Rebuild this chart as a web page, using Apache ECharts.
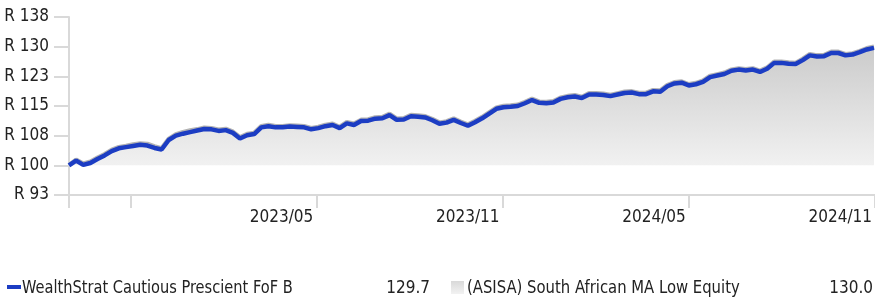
<!DOCTYPE html>
<html>
<head>
<meta charset="utf-8">
<script src="https://cdn.jsdelivr.net/npm/echarts@6/dist/echarts.min.js"></script>
<style>
  html, body { margin: 0; padding: 0; background: #fff; }
  #growthChart { width: 875px; height: 300px; }
</style>
</head>
<body>
<div id="growthChart"></div>
<script>
// weekly dates (Fridays)
const weekDates = [
  '2022-09-30','2022-10-07','2022-10-14','2022-10-21','2022-10-28','2022-11-04','2022-11-11','2022-11-18','2022-11-25',
  '2022-12-02','2022-12-09','2022-12-16','2022-12-23','2022-12-30','2023-01-06','2023-01-13','2023-01-20','2023-01-27',
  '2023-02-03','2023-02-10','2023-02-17','2023-02-24','2023-03-03','2023-03-10','2023-03-17','2023-03-24','2023-03-31',
  '2023-04-07','2023-04-14','2023-04-21','2023-04-28','2023-05-05','2023-05-12','2023-05-19','2023-05-26','2023-06-02',
  '2023-06-09','2023-06-16','2023-06-23','2023-06-30','2023-07-07','2023-07-14','2023-07-21','2023-07-28','2023-08-04',
  '2023-08-11','2023-08-18','2023-08-25','2023-09-01','2023-09-08','2023-09-15','2023-09-22','2023-09-29','2023-10-06',
  '2023-10-13','2023-10-20','2023-10-27','2023-11-03','2023-11-10','2023-11-17','2023-11-24','2023-12-01','2023-12-08',
  '2023-12-15','2023-12-22','2023-12-29','2024-01-05','2024-01-12','2024-01-19','2024-01-26','2024-02-02','2024-02-09',
  '2024-02-16','2024-02-23','2024-03-01','2024-03-08','2024-03-15','2024-03-22','2024-03-29','2024-04-05','2024-04-12',
  '2024-04-19','2024-04-26','2024-05-03','2024-05-10','2024-05-17','2024-05-24','2024-05-31','2024-06-07','2024-06-14',
  '2024-06-21','2024-06-28','2024-07-05','2024-07-12','2024-07-19','2024-07-26','2024-08-02','2024-08-09','2024-08-16',
  '2024-08-23','2024-08-30','2024-09-06','2024-09-13','2024-09-20','2024-09-27','2024-10-04','2024-10-11','2024-10-18',
  '2024-10-25','2024-11-01','2024-11-08','2024-11-15','2024-11-22','2024-11-29'
];

// WealthStrat Cautious Prescient FoF B (growth of R100)
const fundValues = [
  100.0,101.2,100.1,100.6,101.6,102.5,103.6,104.3,104.6,104.9,
  105.2,105.0,104.4,104.0,106.4,107.5,108.0,108.4,108.8,109.2,
  109.1,108.7,108.9,108.2,106.8,107.6,107.9,109.6,109.9,109.6,
  109.6,109.8,109.7,109.6,109.1,109.4,109.9,110.2,109.4,110.6,
  110.2,111.2,111.3,111.8,111.9,112.7,111.5,111.6,112.4,112.3,
  112.1,111.4,110.5,110.8,111.5,110.7,110.0,110.9,111.9,113.1,
  114.3,114.7,114.8,115.0,115.7,116.5,115.8,115.7,115.9,116.8,
  117.2,117.4,117.0,117.9,117.9,117.8,117.5,117.9,118.3,118.4,
  118.0,118.0,118.7,118.6,120.0,120.7,120.9,120.2,120.5,121.1,
  122.3,122.7,123.1,123.9,124.2,124.0,124.2,123.6,124.4,125.9,
  125.9,125.7,125.6,126.6,127.8,127.5,127.6,128.4,128.4,127.8,
  128.0,128.6,129.3,129.7
];

// (ASISA) South African MA Low Equity
const categoryValues = [
  100.0,101.4,100.4,100.9,101.9,102.8,103.9,104.6,104.9,105.3,
  105.5,105.4,104.8,104.3,106.7,107.8,108.4,108.8,109.1,109.5,
  109.4,109.0,109.2,108.5,107.1,107.9,108.2,109.9,110.2,109.9,
  109.9,110.1,110.0,109.9,109.4,109.7,110.2,110.5,109.7,110.9,
  110.5,111.5,111.6,112.1,112.2,113.0,111.8,111.9,112.7,112.6,
  112.4,111.7,110.8,111.1,111.8,111.0,110.3,111.2,112.2,113.4,
  114.6,115.0,115.1,115.3,116.0,116.8,116.1,116.0,116.2,117.1,
  117.5,117.7,117.3,118.2,118.2,118.1,117.8,118.2,118.6,118.7,
  118.3,118.3,119.0,118.9,120.3,121.0,121.2,120.5,120.8,121.4,
  122.6,123.0,123.4,124.2,124.5,124.3,124.5,123.9,124.7,126.2,
  126.2,126.0,125.9,126.9,128.1,127.8,127.9,128.7,128.7,128.1,
  128.3,128.9,129.6,130.0
];

const seriesNames = ['WealthStrat Cautious Prescient FoF B', '(ASISA) South African MA Low Equity'];
const finalValues = ['129.7', '130.0'];

const yTicks = [92.5, 100, 107.5, 115, 122.5, 130, 137.5];
const xTickDates = ['2022-09-30', '2022-11-30', '2023-05-31', '2023-11-30', '2024-05-31', '2024-11-30'];
const xLabelDates = ['2023-05-31', '2023-11-30', '2024-05-31', '2024-11-30'];

const FONT = "'Liberation Sans Narrow', 'DejaVu Sans Condensed', 'Roboto', sans-serif";
const BLUE = '#1c3dc3';
const AXIS_GREY = '#d9d9d9';

const toTime = s => echarts.time.parse(s).getTime();
const pairs = vals => weekDates.map((d, i) => [toTime(d), vals[i]]);

const chart = echarts.init(document.getElementById('growthChart'), null, { renderer: 'canvas' });

const option = {
  animation: false,
  backgroundColor: '#fff',
  grid: { left: 69, right: -2, top: 17, bottom: 105, containLabel: false },
  xAxis: {
    // dates as timestamps on a value axis, so the custom ticks work
    type: 'value',
    min: toTime(weekDates[0]),
    max: toTime(xTickDates[xTickDates.length - 1]),
    axisLine: { show: true, lineStyle: { color: AXIS_GREY, width: 2 } },
    axisTick: {
      show: true, length: 13, inside: false,
      lineStyle: { color: AXIS_GREY, width: 2 },
      customValues: xTickDates.map(toTime)
    },
    axisLabel: {
      customValues: xLabelDates.map(toTime),
      formatter: v => echarts.time.format(v, '{yyyy}/{MM}', false),
      align: 'right',
      margin: 14,
      padding: [0, 3, 0, 0],
      color: '#222',
      fontFamily: FONT,
      fontSize: 17
    },
    splitLine: { show: false }
  },
  yAxis: {
    type: 'value',
    min: yTicks[0],
    max: yTicks[yTicks.length - 1],
    axisLine: { show: true, lineStyle: { color: AXIS_GREY, width: 2 } },
    axisTick: {
      show: true, length: 15,
      lineStyle: { color: AXIS_GREY, width: 2 },
      customValues: yTicks
    },
    axisLabel: {
      customValues: yTicks,
      formatter: v => 'R ' + Math.round(v),
      margin: 20,
      color: '#222',
      fontFamily: FONT,
      fontSize: 17
    },
    splitLine: { show: false }
  },
  series: [
    {
      name: seriesNames[1],
      type: 'line',
      data: pairs(categoryValues),
      showSymbol: false,
      symbol: 'none',
      z: 2,
      lineStyle: { color: '#b3b3b3', width: 4.5 },
      areaStyle: {
        origin: 100,
        color: new echarts.graphic.LinearGradient(0, 0, 0, 1, [
          { offset: 0, color: '#cbcbcb' },
          { offset: 1, color: '#f1f1f1' }
        ]),
        opacity: 1
      }
    },
    {
      name: seriesNames[0],
      type: 'line',
      data: pairs(fundValues),
      showSymbol: false,
      symbol: 'none',
      z: 3,
      lineStyle: { color: BLUE, width: 4.5 }
    }
  ],
  // legend drawn by hand to match the name / value layout
  graphic: [
    { type: 'rect', left: 7, top: 285, shape: { width: 14, height: 4 }, style: { fill: BLUE } },
    { type: 'text', x: 22, y: 280, scaleX: 0.955, style: { text: seriesNames[0], font: '17px ' + FONT, fill: '#222' } },
    { type: 'text', x: 430, y: 280, style: { text: finalValues[0], font: '17px ' + FONT, fill: '#222', align: 'right' } },
    {
      type: 'rect', left: 451, top: 281, shape: { width: 13, height: 13 },
      style: { fill: new echarts.graphic.LinearGradient(0, 0, 0, 1, [
        { offset: 0, color: '#d9d9d9' }, { offset: 1, color: '#f2f2f2' }
      ]) }
    },
    { type: 'text', x: 467, y: 280, scaleX: 0.97, style: { text: seriesNames[1], font: '17px ' + FONT, fill: '#222' } },
    { type: 'text', x: 873, y: 280, style: { text: finalValues[1], font: '17px ' + FONT, fill: '#222', align: 'right' } }
  ]
};

chart.setOption(option);
</script>
</body>
</html>
